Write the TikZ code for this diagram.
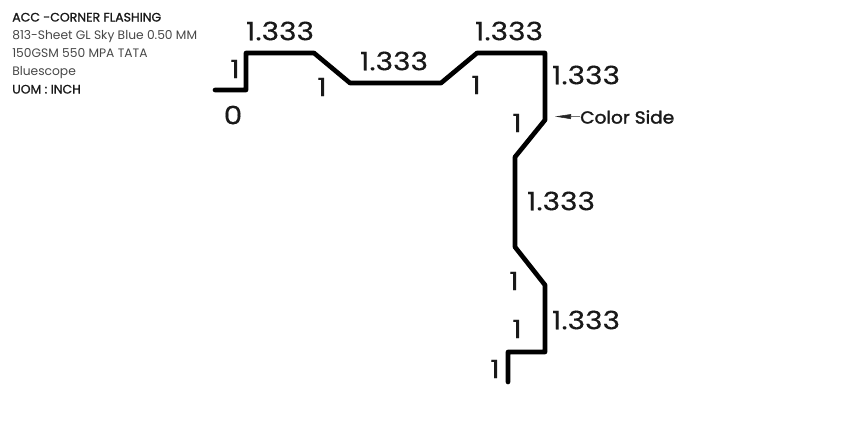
\documentclass[tikz,border=0pt]{standalone}
\usepackage{fontspec}
\setmainfont{Poppins}
\newfontfamily\dimfont[FakeStretch=1.17,FakeBold=0.3]{Poppins}
\newfontfamily\headfont[FakeBold=1.2,FakeStretch=1.02]{Poppins}
\newfontfamily\sidefont[FakeBold=1.8,FakeStretch=1.07]{Poppins}
\usetikzlibrary{arrows,arrows.meta}

\begin{document}
\begin{tikzpicture}[x=0.75pt,y=-0.75pt,
  dim node/.style={font=\dimfont\fontsize{19}{19}\selectfont,inner sep=0pt,text=black!90},
  info node/.style={font=\fontsize{9.2}{9.2}\selectfont,anchor=base west,inner sep=0pt,text=black!72},
  info head/.style={info node,font=\headfont\fontsize{9.2}{9.2}\selectfont,text=black!90},
  sheet line/.style={line width=3.5pt,line join=round,line cap=round}]

  \useasboundingbox (0,0) rectangle (848,429);

  \coordinate (p1) at (215,90);
  \coordinate (p2) at (246,90);
  \coordinate (p3) at (246,53);
  \coordinate (p4) at (314,53);
  \coordinate (p5) at (350,83);
  \coordinate (p6) at (441,83);
  \coordinate (p7) at (477,53);
  \coordinate (p8) at (545,53);
  \coordinate (p9) at (545,120);
  \coordinate (p10) at (515,157);
  \coordinate (p11) at (515,247);
  \coordinate (p12) at (545,285);
  \coordinate (p13) at (545,352);
  \coordinate (p14) at (508,352);
  \coordinate (p15) at (508,382);

  \draw[sheet line] (p1) -- (p2) -- (p3) -- (p4) -- (p5) -- (p6) -- (p7) -- (p8)
    -- (p9) -- (p10) -- (p11) -- (p12) -- (p13) -- (p14) -- (p15);

  \node[info head] (title) at (12,21.5) {ACC -CORNER FLASHING};
  \node[info node] (line1) at (12,39.5) {813-Sheet GL Sky Blue 0.50 MM};
  \node[info node] (line2) at (12,57.5) {150GSM 550 MPA TATA};
  \node[info node] (line3) at (12,75.5) {Bluescope};
  \node[info head] (uom) at (12,93.5) {UOM : INCH};

  \node[dim node] (d1) at (280,31) {1.333};
  \node[dim node] (d2) at (394,61) {1.333};
  \node[dim node] (d3) at (509,31) {1.333};
  \node[dim node] (d4) at (586,75) {1.333};
  \node[dim node] (d5) at (561,201) {1.333};
  \node[dim node] (d6) at (586,320) {1.333};

  \node[dim node] (a0) at (233,115) {0};
  \node[dim node] (a1) at (235,69) {1};
  \node[dim node] (a2) at (322,87) {1};
  \node[dim node] (a3) at (476,85) {1};
  \node[dim node] (a4) at (517,123) {1};
  \node[dim node] (a5) at (514,281) {1};
  \node[dim node] (a6) at (517,329) {1};
  \node[dim node] (a7) at (495,369) {1};

  \node[font=\sidefont\fontsize{13}{13}\selectfont,inner sep=0pt,text=black!90,anchor=west] (side) at (580,117) {Color Side};
  \coordinate (tip) at (555,116.5);
  \draw[-{Stealth[length=12pt,width=3.6pt,inset=0pt]},line width=0.4pt,black!85] (side) -- (tip);

\end{tikzpicture}
\end{document}
